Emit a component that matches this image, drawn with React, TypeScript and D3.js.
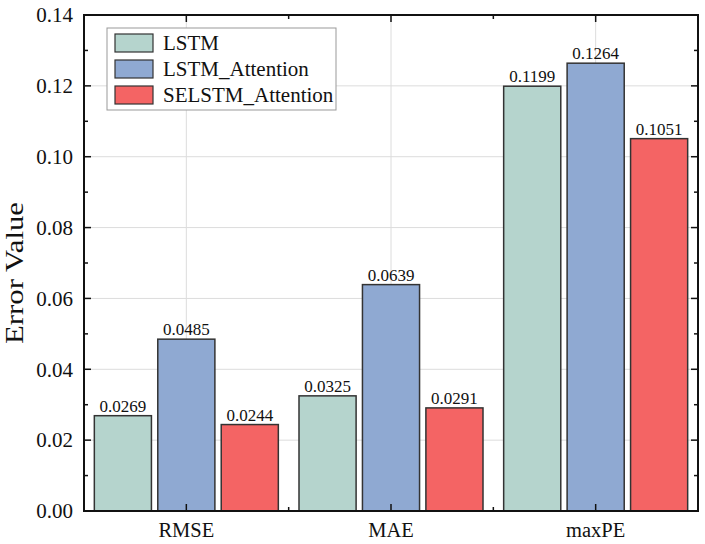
import { useEffect, useRef } from "react";
import * as d3 from "d3";

const categories = ["RMSE", "MAE", "maxPE"];
const seriesNames = ["LSTM", "LSTM_Attention", "SELSTM_Attention"];
const lstm = [0.0269, 0.0325, 0.1199];
const lstmAttention = [0.0485, 0.0639, 0.1264];
const selstmAttention = [0.0244, 0.0291, 0.1051];
const yTicks = [0, 0.02, 0.04, 0.06, 0.08, 0.1, 0.12, 0.14];
const yMinorTicks = [0.01, 0.03, 0.05, 0.07, 0.09, 0.11, 0.13];
const colors = ["#b5d4cd", "#8fa9d2", "#f46464"];

const W = 705;
const H = 544;

export default function App() {
    const svgRef = useRef<SVGSVGElement | null>(null);

    useEffect(() => {
        const svg = d3.select(svgRef.current);
        svg.selectAll("*").remove();

        const margin = { top: 15, right: 7, bottom: 33, left: 84 };
        const x0 = margin.left;
        const x1 = W - margin.right;
        const y0 = H - margin.bottom;
        const y1 = margin.top;

        const x = d3.scaleBand().domain(categories).range([x0, x1]).padding(0);
        const y = d3.scaleLinear().domain([0, 0.14]).range([y0, y1]);
        const inner = d3.scaleBand<number>()
            .domain([0, 1, 2])
            .range([0, 184])
            .paddingInner(0.1);

        const font = "'Liberation Serif', 'Times New Roman', serif";
        const data = [lstm, lstmAttention, selstmAttention];

        // grid
        svg.append("g")
            .selectAll("line")
            .data(yTicks.slice(1, -1))
            .enter()
            .append("line")
            .attr("x1", x0).attr("x2", x1)
            .attr("y1", d => y(d)).attr("y2", d => y(d))
            .attr("stroke", "#dcdcdc").attr("stroke-width", 1);
        svg.append("g")
            .selectAll("line")
            .data(categories)
            .enter()
            .append("line")
            .attr("x1", d => (x(d) || 0) + x.bandwidth() / 2)
            .attr("x2", d => (x(d) || 0) + x.bandwidth() / 2)
            .attr("y1", y0).attr("y2", y1)
            .attr("stroke", "#dcdcdc").attr("stroke-width", 1);

        // bars
        categories.forEach((c, i) => {
            const cx = (x(c) || 0) + x.bandwidth() / 2 - 92;
            data.forEach((s, j) => {
                const bx = cx + (inner(j) || 0);
                svg.append("rect")
                    .attr("x", bx)
                    .attr("y", y(s[i]))
                    .attr("width", inner.bandwidth())
                    .attr("height", y0 - y(s[i]))
                    .attr("fill", colors[j])
                    .attr("stroke", "#333")
                    .attr("stroke-width", 1.5);
                svg.append("text")
                    .attr("x", bx + inner.bandwidth() / 2)
                    .attr("y", y(s[i]) - 4)
                    .attr("text-anchor", "middle")
                    .attr("font-family", font)
                    .attr("font-size", 17)
                    .attr("fill", "#111")
                    .text(s[i].toFixed(4));
            });
        });

        // frame
        svg.append("rect")
            .attr("x", x0).attr("y", y1)
            .attr("width", x1 - x0).attr("height", y0 - y1)
            .attr("fill", "none").attr("stroke", "#111").attr("stroke-width", 2);

        // y ticks (left and right, inside)
        const ticks = svg.append("g").attr("stroke", "#111").attr("stroke-width", 1.5);
        yTicks.forEach(t => {
            ticks.append("line").attr("x1", x0).attr("x2", x0 + 7).attr("y1", y(t)).attr("y2", y(t));
            ticks.append("line").attr("x1", x1).attr("x2", x1 - 7).attr("y1", y(t)).attr("y2", y(t));
        });
        yMinorTicks.forEach(t => {
            ticks.append("line").attr("x1", x0).attr("x2", x0 + 4).attr("y1", y(t)).attr("y2", y(t));
            ticks.append("line").attr("x1", x1).attr("x2", x1 - 4).attr("y1", y(t)).attr("y2", y(t));
        });
        // x ticks (bottom and top, inside)
        categories.forEach((c, i) => {
            const cx = (x(c) || 0) + x.bandwidth() / 2;
            ticks.append("line").attr("x1", cx).attr("x2", cx).attr("y1", y0).attr("y2", y0 - 7);
            ticks.append("line").attr("x1", cx).attr("x2", cx).attr("y1", y1).attr("y2", y1 + 7);
            if (i > 0) {
                const bx = x(c) || 0;
                ticks.append("line").attr("x1", bx).attr("x2", bx).attr("y1", y0).attr("y2", y0 - 4);
                ticks.append("line").attr("x1", bx).attr("x2", bx).attr("y1", y1).attr("y2", y1 + 4);
            }
        });

        // y tick labels
        svg.append("g")
            .selectAll("text")
            .data(yTicks)
            .enter()
            .append("text")
            .attr("x", x0 - 11)
            .attr("y", d => y(d))
            .attr("dy", "0.35em")
            .attr("text-anchor", "end")
            .attr("font-family", font)
            .attr("font-size", 21)
            .attr("fill", "#111")
            .text(d => d.toFixed(2));

        // x labels
        svg.append("g")
            .selectAll("text")
            .data(categories)
            .enter()
            .append("text")
            .attr("x", d => (x(d) || 0) + x.bandwidth() / 2)
            .attr("y", y0 + 26)
            .attr("text-anchor", "middle")
            .attr("font-family", font)
            .attr("font-size", 20.5)
            .attr("fill", "#111")
            .text(d => d);

        // y title
        svg.append("text")
            .attr("transform", "translate(23,273) rotate(-90)")
            .attr("text-anchor", "middle")
            .attr("font-family", font)
            .attr("font-size", 25)
            .attr("textLength", 142)
            .attr("lengthAdjust", "spacingAndGlyphs")
            .attr("fill", "#111")
            .text("Error Value");

        // legend
        const lg = svg.append("g").attr("transform", "translate(107,28)");
        lg.append("rect")
            .attr("width", 229).attr("height", 82)
            .attr("fill", "white").attr("stroke", "#999").attr("stroke-width", 1);
        seriesNames.forEach((n, i) => {
            lg.append("rect")
                .attr("x", 8).attr("y", 6 + i * 26)
                .attr("width", 38).attr("height", 18)
                .attr("fill", colors[i]).attr("stroke", "#333").attr("stroke-width", 1.2);
            lg.append("text")
                .attr("x", 56).attr("y", 15 + i * 26)
                .attr("dy", "0.35em")
                .attr("font-family", font)
                .attr("font-size", 21)
                .attr("fill", "#111")
                .text(n);
        });
    }, []);

    return (
        <svg ref={svgRef} width={W} height={H}
            style={{ position: "absolute", left: 0, top: 0, background: "white" }} />
    );
}
